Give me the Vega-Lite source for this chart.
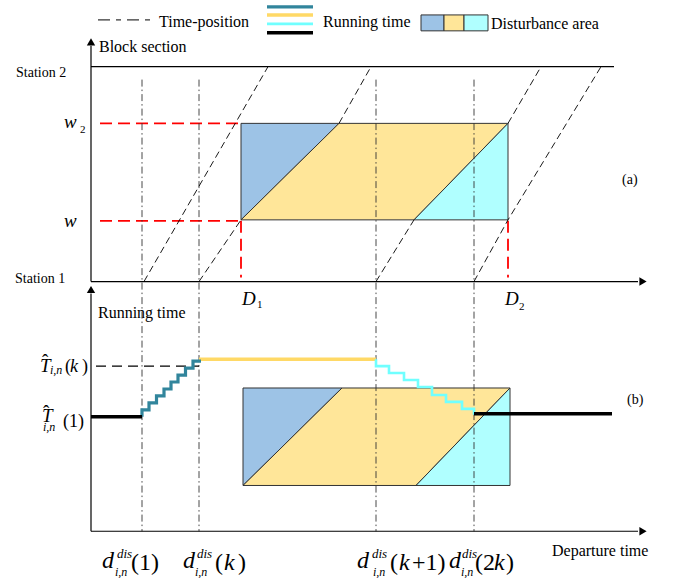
{
  "$schema": "https://vega.github.io/schema/vega-lite/v6.json",
  "width": 689,
  "height": 578,
  "autosize": {"type": "fit", "contains": "padding"},
  "padding": 0,
  "background": "white",
  "config": {"view": {"stroke": null}, "text": {"font": "'Liberation Serif', 'DejaVu Serif', serif"}},
  "datasets": {
    "polys": [
      {"s": "blue", "p": "a", "x": 241, "y": 122, "y2": 219},
      {"s": "blue", "p": "a", "x": 339, "y": 122, "y2": 122},
      {"s": "yellow", "p": "a", "x": 241, "y": 219, "y2": 219},
      {"s": "yellow", "p": "a", "x": 339, "y": 122, "y2": 219},
      {"s": "yellow", "p": "a", "x": 414, "y": 122, "y2": 219},
      {"s": "yellow", "p": "a", "x": 508, "y": 122, "y2": 122},
      {"s": "cyan", "p": "a", "x": 414, "y": 219, "y2": 219},
      {"s": "cyan", "p": "a", "x": 508, "y": 122, "y2": 219},
      {"s": "blue", "p": "b", "x": 243, "y": 388, "y2": 486},
      {"s": "blue", "p": "b", "x": 342, "y": 388, "y2": 388},
      {"s": "yellow", "p": "b", "x": 243, "y": 486, "y2": 486},
      {"s": "yellow", "p": "b", "x": 342, "y": 388, "y2": 486},
      {"s": "yellow", "p": "b", "x": 416, "y": 388, "y2": 486},
      {"s": "yellow", "p": "b", "x": 510, "y": 388, "y2": 388},
      {"s": "cyan", "p": "b", "x": 416, "y": 486, "y2": 486},
      {"s": "cyan", "p": "b", "x": 510, "y": 388, "y2": 486}
    ],
    "swatches": [
      {"s": "blue", "x": 421, "x2": 444, "y": 13, "y2": 29},
      {"s": "yellow", "x": 444, "x2": 464, "y": 13, "y2": 29},
      {"s": "cyan", "x": 464, "x2": 488, "y": 13, "y2": 29}
    ],
    "lines": [
      {"k": "axis", "id": "a1", "o": 1, "x": 91, "y": 44},
      {"k": "axis", "id": "a1", "o": 2, "x": 91, "y": 281},
      {"k": "axis", "id": "a2", "o": 1, "x": 91, "y": 281},
      {"k": "axis", "id": "a2", "o": 2, "x": 638, "y": 281},
      {"k": "axis", "id": "a3", "o": 1, "x": 91, "y": 65},
      {"k": "axis", "id": "a3", "o": 2, "x": 614, "y": 65},
      {"k": "axis", "id": "a4", "o": 1, "x": 91, "y": 293},
      {"k": "axis", "id": "a4", "o": 2, "x": 91, "y": 532},
      {"k": "axis", "id": "a5", "o": 1, "x": 91, "y": 532},
      {"k": "axis", "id": "a5", "o": 2, "x": 638, "y": 532},
      {"k": "vdash", "id": "v1", "o": 1, "x": 142, "y": 78},
      {"k": "vdash", "id": "v1", "o": 2, "x": 142, "y": 532},
      {"k": "vdash", "id": "v2", "o": 1, "x": 199, "y": 78},
      {"k": "vdash", "id": "v2", "o": 2, "x": 199, "y": 532},
      {"k": "vdash", "id": "v3", "o": 1, "x": 376, "y": 78},
      {"k": "vdash", "id": "v3", "o": 2, "x": 376, "y": 532},
      {"k": "vdash", "id": "v4", "o": 1, "x": 474, "y": 78},
      {"k": "vdash", "id": "v4", "o": 2, "x": 474, "y": 532},
      {"k": "traj", "id": "t1", "o": 1, "x": 144, "y": 281},
      {"k": "traj", "id": "t1", "o": 2, "x": 268, "y": 65},
      {"k": "traj", "id": "t2a", "o": 1, "x": 199, "y": 281},
      {"k": "traj", "id": "t2a", "o": 2, "x": 241, "y": 219},
      {"k": "traj", "id": "t2b", "o": 1, "x": 339, "y": 122},
      {"k": "traj", "id": "t2b", "o": 2, "x": 371, "y": 65},
      {"k": "traj", "id": "t3a", "o": 1, "x": 376, "y": 281},
      {"k": "traj", "id": "t3a", "o": 2, "x": 414, "y": 219},
      {"k": "traj", "id": "t3b", "o": 1, "x": 508, "y": 122},
      {"k": "traj", "id": "t3b", "o": 2, "x": 541, "y": 65},
      {"k": "traj", "id": "t4", "o": 1, "x": 474, "y": 281},
      {"k": "traj", "id": "t4", "o": 2, "x": 508, "y": 219},
      {"k": "traj", "id": "t4", "o": 3, "x": 601, "y": 65},
      {"k": "red", "id": "r1", "o": 1, "x": 100, "y": 122},
      {"k": "red", "id": "r1", "o": 2, "x": 241, "y": 122},
      {"k": "red", "id": "r2", "o": 1, "x": 100, "y": 220},
      {"k": "red", "id": "r2", "o": 2, "x": 241, "y": 220},
      {"k": "red", "id": "r3", "o": 1, "x": 241, "y": 220},
      {"k": "red", "id": "r3", "o": 2, "x": 241, "y": 277},
      {"k": "red", "id": "r4", "o": 1, "x": 508, "y": 220},
      {"k": "red", "id": "r4", "o": 2, "x": 508, "y": 277},
      {"k": "bdash", "id": "bd", "o": 1, "x": 96, "y": 366},
      {"k": "bdash", "id": "bd", "o": 2, "x": 199, "y": 366},
      {"k": "ldash", "id": "ld", "o": 1, "x": 98, "y": 18},
      {"k": "ldash", "id": "ld", "o": 2, "x": 151, "y": 18},
      {"k": "black", "id": "b1", "o": 1, "x": 91, "y": 417},
      {"k": "black", "id": "b1", "o": 2, "x": 142, "y": 417},
      {"k": "black", "id": "b2", "o": 1, "x": 474, "y": 414},
      {"k": "black", "id": "b2", "o": 2, "x": 612, "y": 414},
      {"k": "black", "id": "lb", "o": 1, "x": 267, "y": 31},
      {"k": "black", "id": "lb", "o": 2, "x": 313, "y": 31},
      {"k": "teal", "id": "lt", "o": 1, "x": 267, "y": 5},
      {"k": "teal", "id": "lt", "o": 2, "x": 313, "y": 5},
      {"k": "yellow", "id": "ly", "o": 1, "x": 267, "y": 13},
      {"k": "yellow", "id": "ly", "o": 2, "x": 313, "y": 13},
      {"k": "cyan", "id": "lc", "o": 1, "x": 267, "y": 22},
      {"k": "cyan", "id": "lc", "o": 2, "x": 313, "y": 22},
      {"k": "yellow", "id": "y1", "o": 1, "x": 199, "y": 359},
      {"k": "yellow", "id": "y1", "o": 2, "x": 376, "y": 359},
      {"k": "teal", "id": "s1", "o": 1, "x": 142, "y": 417},
      {"k": "teal", "id": "s1", "o": 2, "x": 142, "y": 410},
      {"k": "teal", "id": "s1", "o": 3, "x": 149, "y": 410},
      {"k": "teal", "id": "s1", "o": 4, "x": 149, "y": 403},
      {"k": "teal", "id": "s1", "o": 5, "x": 156.5, "y": 403},
      {"k": "teal", "id": "s1", "o": 6, "x": 156.5, "y": 396},
      {"k": "teal", "id": "s1", "o": 7, "x": 164, "y": 396},
      {"k": "teal", "id": "s1", "o": 8, "x": 164, "y": 389},
      {"k": "teal", "id": "s1", "o": 9, "x": 171, "y": 389},
      {"k": "teal", "id": "s1", "o": 10, "x": 171, "y": 382},
      {"k": "teal", "id": "s1", "o": 11, "x": 178, "y": 382},
      {"k": "teal", "id": "s1", "o": 12, "x": 178, "y": 375},
      {"k": "teal", "id": "s1", "o": 13, "x": 185.5, "y": 375},
      {"k": "teal", "id": "s1", "o": 14, "x": 185.5, "y": 368},
      {"k": "teal", "id": "s1", "o": 15, "x": 193, "y": 368},
      {"k": "teal", "id": "s1", "o": 16, "x": 193, "y": 361},
      {"k": "teal", "id": "s1", "o": 17, "x": 201, "y": 361},
      {"k": "cyan", "id": "c1", "o": 1, "x": 376, "y": 359},
      {"k": "cyan", "id": "c1", "o": 2, "x": 376, "y": 366},
      {"k": "cyan", "id": "c1", "o": 3, "x": 389, "y": 366},
      {"k": "cyan", "id": "c1", "o": 4, "x": 389, "y": 373},
      {"k": "cyan", "id": "c1", "o": 5, "x": 404, "y": 373},
      {"k": "cyan", "id": "c1", "o": 6, "x": 404, "y": 380},
      {"k": "cyan", "id": "c1", "o": 7, "x": 418, "y": 380},
      {"k": "cyan", "id": "c1", "o": 8, "x": 418, "y": 387},
      {"k": "cyan", "id": "c1", "o": 9, "x": 432, "y": 387},
      {"k": "cyan", "id": "c1", "o": 10, "x": 432, "y": 395},
      {"k": "cyan", "id": "c1", "o": 11, "x": 446, "y": 395},
      {"k": "cyan", "id": "c1", "o": 12, "x": 446, "y": 402},
      {"k": "cyan", "id": "c1", "o": 13, "x": 462, "y": 402},
      {"k": "cyan", "id": "c1", "o": 14, "x": 462, "y": 409},
      {"k": "cyan", "id": "c1", "o": 15, "x": 474, "y": 409},
      {"k": "cyan", "id": "c1", "o": 16, "x": 474, "y": 415}
    ],
    "arrows": [
      {"d": "up", "x": 91, "y": 40},
      {"d": "up", "x": 91, "y": 289},
      {"d": "right", "x": 643, "y": 281},
      {"d": "right", "x": 643, "y": 532}
    ],
    "texts": [
      {"f": "n16", "t": "Time-position", "x": 159, "y": 25},
      {"f": "n16", "t": "Running time", "x": 323, "y": 25},
      {"f": "n16", "t": "Disturbance area", "x": 491, "y": 27},
      {"f": "n16", "t": "Block section", "x": 99, "y": 50},
      {"f": "n16", "t": "Running time", "x": 98, "y": 318},
      {"f": "n16", "t": "Departure time", "x": 552, "y": 557},
      {"f": "n14", "t": "Station 2", "x": 16, "y": 75},
      {"f": "n14", "t": "Station 1", "x": 15, "y": 282},
      {"f": "n14", "t": "(a)", "x": 622, "y": 183},
      {"f": "n14", "t": "(b)", "x": 627, "y": 404},
      {"f": "n11", "t": "2", "x": 80, "y": 132},
      {"f": "n11", "t": "1", "x": 257, "y": 308},
      {"f": "n11", "t": "2", "x": 519, "y": 310},
      {"f": "n24", "t": "(1)", "x": 131, "y": 571},
      {"f": "n24", "t": "(", "x": 215, "y": 571},
      {"f": "n24", "t": ")", "x": 238, "y": 571},
      {"f": "n24", "t": "(", "x": 390, "y": 571},
      {"f": "n24", "t": "+1)", "x": 412, "y": 571},
      {"f": "n24", "t": "(2", "x": 475, "y": 571},
      {"f": "n24", "t": ")", "x": 506, "y": 571},
      {"f": "i24", "t": "d", "x": 102, "y": 569},
      {"f": "i24", "t": "d", "x": 183, "y": 569},
      {"f": "i24", "t": "d", "x": 357, "y": 569},
      {"f": "i24", "t": "d", "x": 449, "y": 569},
      {"f": "i24", "t": "k", "x": 224, "y": 571},
      {"f": "i24", "t": "k", "x": 399, "y": 571},
      {"f": "i24", "t": "k", "x": 494, "y": 571},
      {"f": "i13", "t": "dis", "x": 117, "y": 559},
      {"f": "i13", "t": "dis", "x": 197, "y": 559},
      {"f": "i13", "t": "dis", "x": 372, "y": 559},
      {"f": "i13", "t": "dis", "x": 462, "y": 559},
      {"f": "i12", "t": "i,n", "x": 115, "y": 577},
      {"f": "i12", "t": "i,n", "x": 195, "y": 577},
      {"f": "i12", "t": "i,n", "x": 373, "y": 577},
      {"f": "i12", "t": "i,n", "x": 461, "y": 577},
      {"f": "i12", "t": "i,n", "x": 50, "y": 374},
      {"f": "i12", "t": "i,n", "x": 43, "y": 431},
      {"f": "n18", "t": "(", "x": 65, "y": 372},
      {"f": "n18", "t": ")", "x": 82, "y": 372},
      {"f": "n18", "t": "(1)", "x": 63, "y": 427},
      {"f": "i18", "t": "k", "x": 70, "y": 372},
      {"f": "i19", "t": "T", "x": 40, "y": 372},
      {"f": "i19", "t": "T", "x": 42, "y": 422},
      {"f": "i19", "t": "w", "x": 64, "y": 127},
      {"f": "i19", "t": "w", "x": 64, "y": 226},
      {"f": "i19", "t": "D", "x": 242, "y": 305},
      {"f": "i19", "t": "D", "x": 505, "y": 305},
      {"f": "h19", "t": "ˆ", "x": 42, "y": 367},
      {"f": "h19", "t": "ˆ", "x": 43, "y": 418}
    ]
  },
  "encoding": {
    "x": {"field": "x", "type": "quantitative", "scale": {"domain": [0, 689], "nice": false, "zero": false}, "axis": null},
    "y": {"field": "y", "type": "quantitative", "scale": {"domain": [0, 578], "reverse": true, "nice": false, "zero": false}, "axis": null, "stack": null}
  },
  "layer": [
    {
      "data": {"name": "polys"},
      "mark": {"type": "area", "stroke": "#333333", "strokeWidth": 1, "opacity": 1},
      "encoding": {
        "y2": {"field": "y2"},
        "color": {"field": "s", "type": "nominal", "scale": {"domain": ["blue", "yellow", "cyan"], "range": ["#9DC3E6", "#FFE699", "#B0FFFF"]}, "legend": null},
        "detail": {"field": "p"}
      }
    },
    {
      "data": {"name": "swatches"},
      "mark": {"type": "rect", "stroke": "#333333", "strokeWidth": 1, "opacity": 1},
      "encoding": {
        "x2": {"field": "x2"},
        "y2": {"field": "y2"},
        "color": {"field": "s", "type": "nominal", "legend": null}
      }
    },
    {
      "data": {"name": "lines"},
      "transform": [{"filter": "datum.k === 'red'"}],
      "mark": {"type": "line", "color": "#FF0000", "strokeWidth": 1.8, "strokeDash": [12, 6]},
      "encoding": {"detail": {"field": "id"}, "order": {"field": "o"}}
    },
    {
      "data": {"name": "lines"},
      "transform": [{"filter": "datum.k === 'vdash'"}],
      "mark": {"type": "line", "color": "#333333", "strokeWidth": 0.9, "strokeDash": [7, 3, 1.5, 3]},
      "encoding": {"detail": {"field": "id"}, "order": {"field": "o"}}
    },
    {
      "data": {"name": "lines"},
      "transform": [{"filter": "datum.k === 'traj'"}],
      "mark": {"type": "line", "color": "#000000", "strokeWidth": 0.9, "strokeDash": [7, 4]},
      "encoding": {"detail": {"field": "id"}, "order": {"field": "o"}}
    },
    {
      "data": {"name": "lines"},
      "transform": [{"filter": "datum.k === 'ldash'"}],
      "mark": {"type": "line", "color": "#000000", "strokeWidth": 1, "strokeDash": [12, 6, 5, 6]},
      "encoding": {"detail": {"field": "id"}, "order": {"field": "o"}}
    },
    {
      "data": {"name": "lines"},
      "transform": [{"filter": "datum.k === 'axis'"}],
      "mark": {"type": "line", "color": "#000000", "strokeWidth": 1.2},
      "encoding": {"detail": {"field": "id"}, "order": {"field": "o"}}
    },
    {
      "data": {"name": "lines"},
      "transform": [{"filter": "datum.k === 'bdash'"}],
      "mark": {"type": "line", "color": "#000000", "strokeWidth": 1.3, "strokeDash": [10, 6]},
      "encoding": {"detail": {"field": "id"}, "order": {"field": "o"}}
    },
    {
      "data": {"name": "lines"},
      "transform": [{"filter": "datum.k === 'yellow'"}],
      "mark": {"type": "line", "color": "#FFD966", "strokeWidth": 3.5},
      "encoding": {"detail": {"field": "id"}, "order": {"field": "o"}}
    },
    {
      "data": {"name": "lines"},
      "transform": [{"filter": "datum.k === 'teal'"}],
      "mark": {"type": "line", "color": "#31859C", "strokeWidth": 3.2, "strokeJoin": "miter"},
      "encoding": {"detail": {"field": "id"}, "order": {"field": "o"}}
    },
    {
      "data": {"name": "lines"},
      "transform": [{"filter": "datum.k === 'cyan'"}],
      "mark": {"type": "line", "color": "#70FFFF", "strokeWidth": 2.6, "strokeJoin": "miter"},
      "encoding": {"detail": {"field": "id"}, "order": {"field": "o"}}
    },
    {
      "data": {"name": "lines"},
      "transform": [{"filter": "datum.k === 'black'"}],
      "mark": {"type": "line", "color": "#000000", "strokeWidth": 3.5},
      "encoding": {"detail": {"field": "id"}, "order": {"field": "o"}}
    },
    {
      "data": {"name": "arrows"},
      "transform": [{"filter": "datum.d === 'up'"}],
      "mark": {"type": "point", "shape": "triangle-up", "filled": true, "color": "#000000", "size": 70, "opacity": 1}
    },
    {
      "data": {"name": "arrows"},
      "transform": [{"filter": "datum.d === 'right'"}],
      "mark": {"type": "point", "shape": "triangle-right", "filled": true, "color": "#000000", "size": 70, "opacity": 1}
    },
    {
      "data": {"name": "texts"},
      "transform": [{"filter": "datum.f === 'n16'"}],
      "mark": {"type": "text", "fontSize": 16, "align": "left", "baseline": "alphabetic", "color": "#000000"},
      "encoding": {"text": {"field": "t"}}
    },
    {
      "data": {"name": "texts"},
      "transform": [{"filter": "datum.f === 'n14'"}],
      "mark": {"type": "text", "fontSize": 14, "align": "left", "baseline": "alphabetic", "color": "#000000"},
      "encoding": {"text": {"field": "t"}}
    },
    {
      "data": {"name": "texts"},
      "transform": [{"filter": "datum.f === 'n11'"}],
      "mark": {"type": "text", "fontSize": 11, "align": "left", "baseline": "alphabetic", "color": "#000000"},
      "encoding": {"text": {"field": "t"}}
    },
    {
      "data": {"name": "texts"},
      "transform": [{"filter": "datum.f === 'n24'"}],
      "mark": {"type": "text", "fontSize": 24, "align": "left", "baseline": "alphabetic", "color": "#000000"},
      "encoding": {"text": {"field": "t"}}
    },
    {
      "data": {"name": "texts"},
      "transform": [{"filter": "datum.f === 'n18'"}],
      "mark": {"type": "text", "fontSize": 18, "align": "left", "baseline": "alphabetic", "color": "#000000"},
      "encoding": {"text": {"field": "t"}}
    },
    {
      "data": {"name": "texts"},
      "transform": [{"filter": "datum.f === 'h19'"}],
      "mark": {"type": "text", "fontSize": 19, "align": "left", "baseline": "alphabetic", "color": "#000000"},
      "encoding": {"text": {"field": "t"}}
    },
    {
      "data": {"name": "texts"},
      "transform": [{"filter": "datum.f === 'i24'"}],
      "mark": {"type": "text", "fontStyle": "italic", "fontSize": 24, "align": "left", "baseline": "alphabetic", "color": "#000000"},
      "encoding": {"text": {"field": "t"}}
    },
    {
      "data": {"name": "texts"},
      "transform": [{"filter": "datum.f === 'i19'"}],
      "mark": {"type": "text", "fontStyle": "italic", "fontSize": 19, "align": "left", "baseline": "alphabetic", "color": "#000000"},
      "encoding": {"text": {"field": "t"}}
    },
    {
      "data": {"name": "texts"},
      "transform": [{"filter": "datum.f === 'i18'"}],
      "mark": {"type": "text", "fontStyle": "italic", "fontSize": 18, "align": "left", "baseline": "alphabetic", "color": "#000000"},
      "encoding": {"text": {"field": "t"}}
    },
    {
      "data": {"name": "texts"},
      "transform": [{"filter": "datum.f === 'i13'"}],
      "mark": {"type": "text", "fontStyle": "italic", "fontSize": 13, "align": "left", "baseline": "alphabetic", "color": "#000000"},
      "encoding": {"text": {"field": "t"}}
    },
    {
      "data": {"name": "texts"},
      "transform": [{"filter": "datum.f === 'i12'"}],
      "mark": {"type": "text", "fontStyle": "italic", "fontSize": 12, "align": "left", "baseline": "alphabetic", "color": "#000000"},
      "encoding": {"text": {"field": "t"}}
    }
  ]
}
